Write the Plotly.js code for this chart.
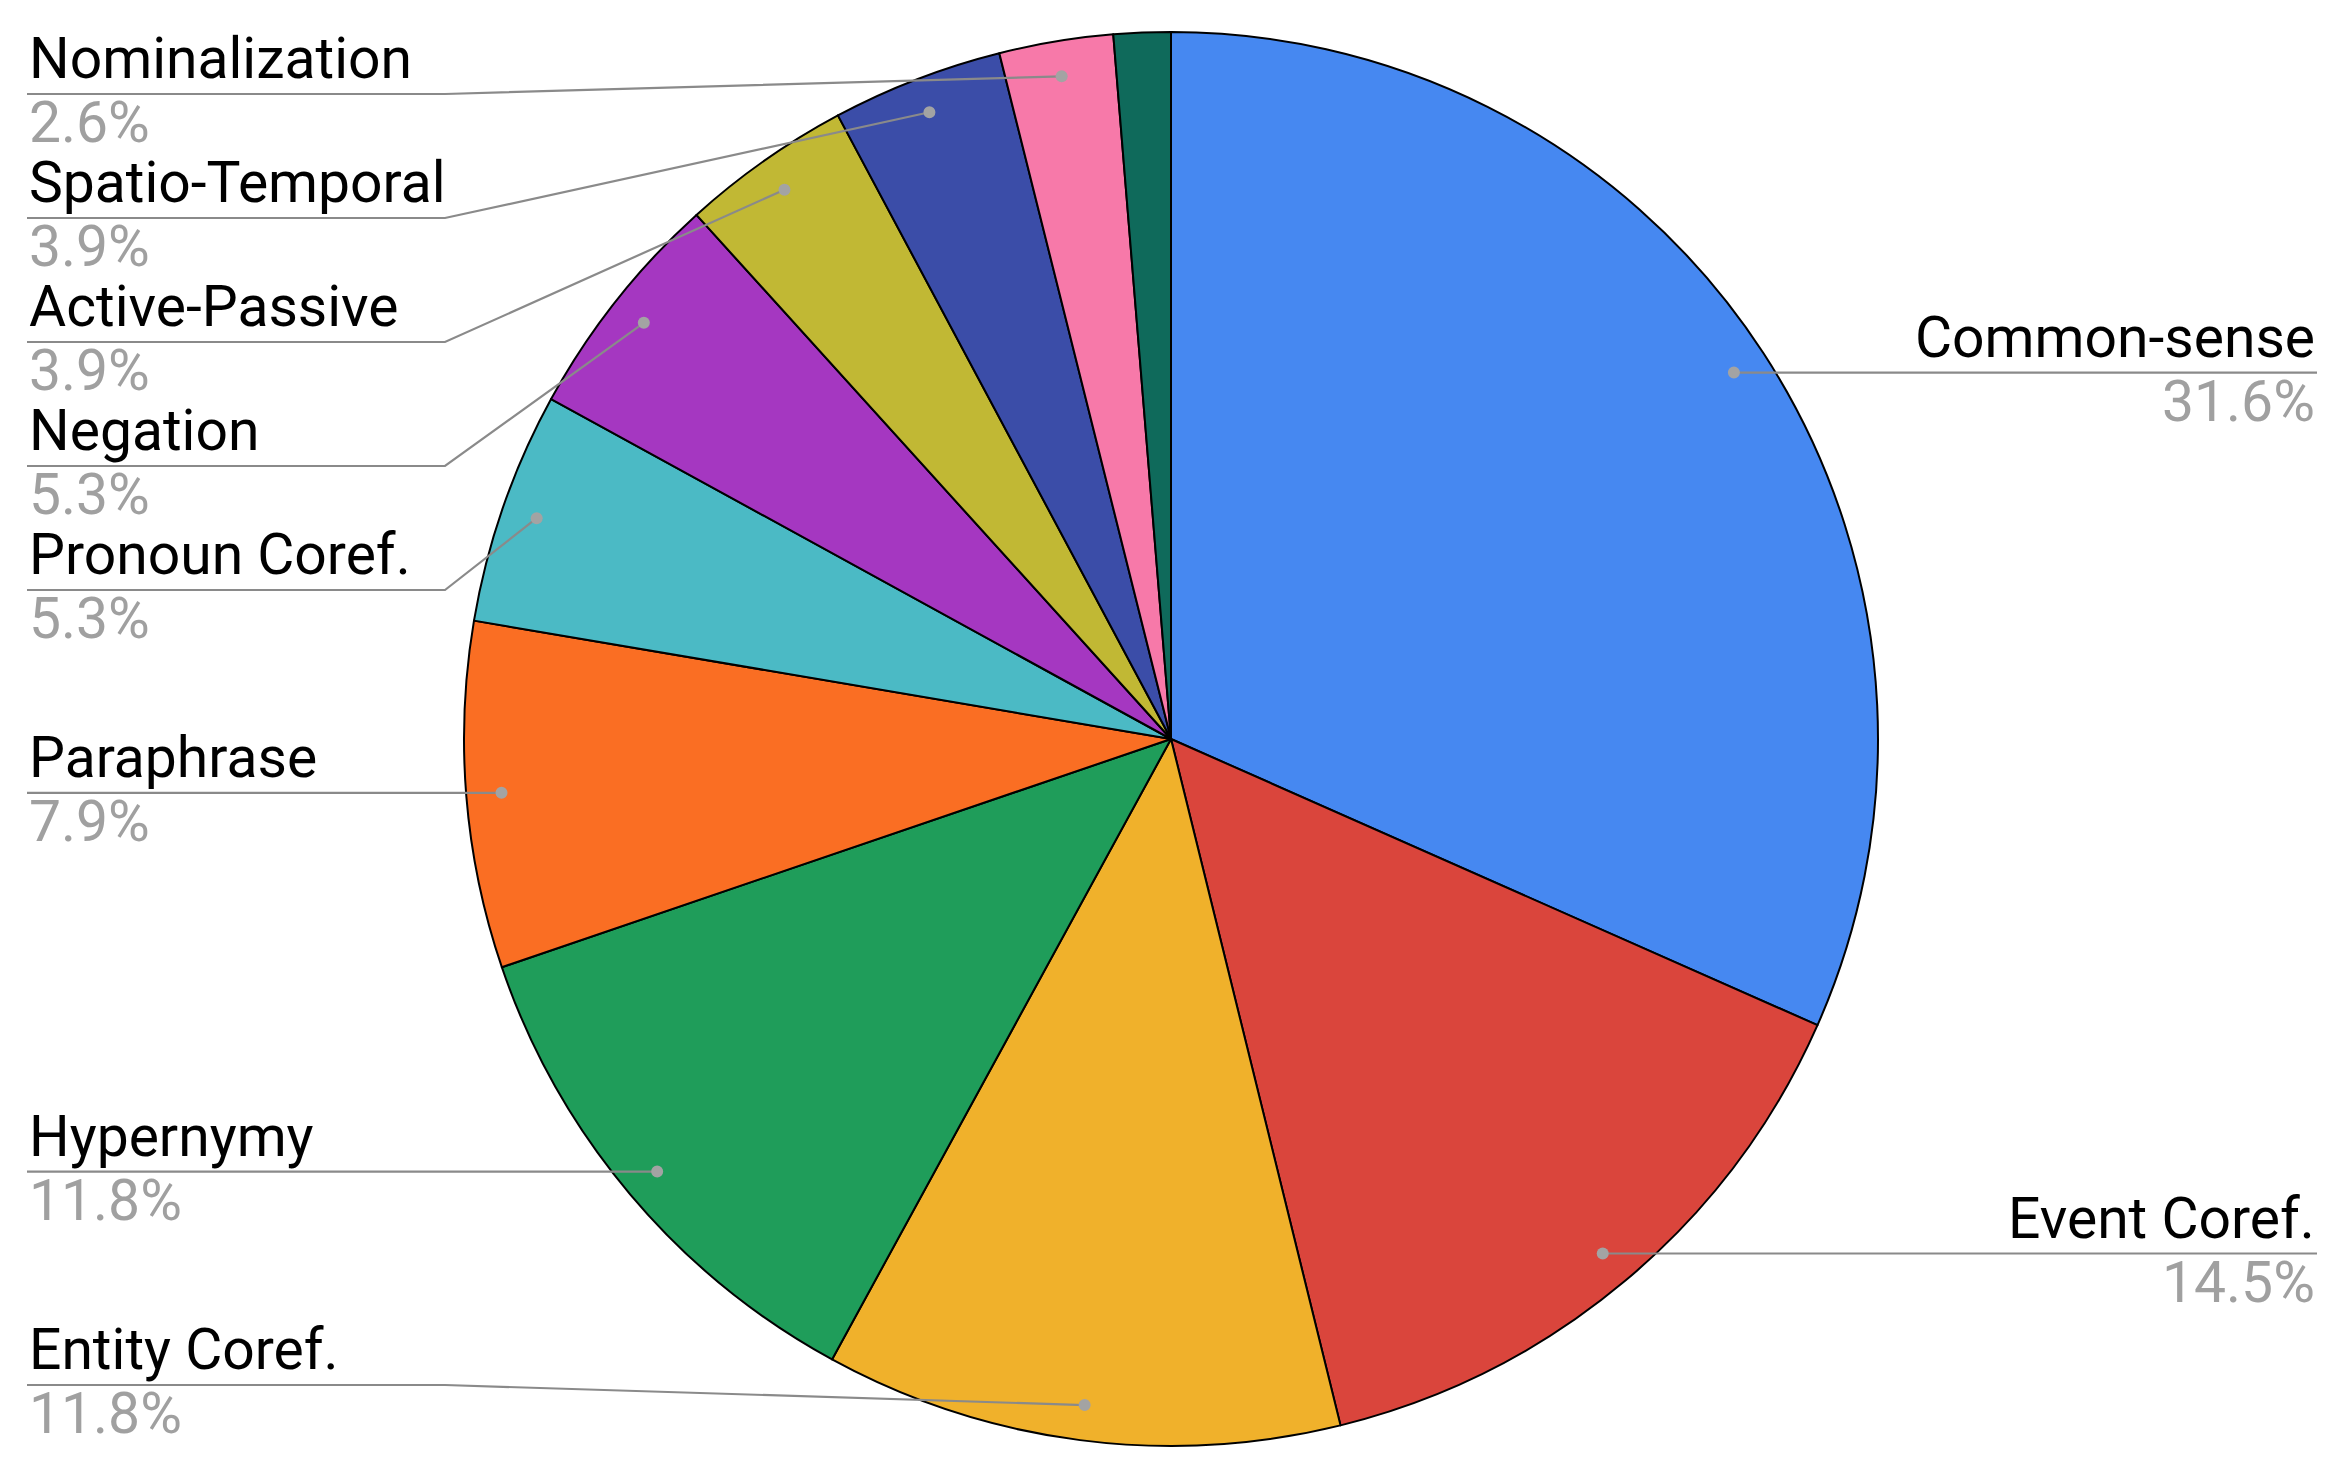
<!DOCTYPE html>
<html>
<head>
<meta charset="utf-8">
<script src="https://cdn.plot.ly/plotly-3.0.1.min.js"></script>
<style>html,body{margin:0;padding:0;background:#fff;}#chart{width:2342px;height:1476px;}</style>
</head>
<body>
<div id="chart"></div>
<script>
// ---- data ----
const categories = ["Common-sense", "Event Coref.", "Entity Coref.", "Hypernymy", "Paraphrase",
  "Pronoun Coref.", "Negation", "Active-Passive", "Spatio-Temporal", "Nominalization", "Other"];
const percents = [31.6, 14.5, 11.8, 11.8, 7.9, 5.3, 5.3, 3.9, 3.9, 2.6, 1.3];
const showLabel = [true, true, true, true, true, true, true, true, true, true, false];
const sliceColors = ["#4688F1", "#DA453C", "#F0B12B", "#1F9D5A", "#FA6E23", "#4BBAC5",
  "#A537C1", "#C1B834", "#3B4DA8", "#F779A9", "#0F6A5B"];

// ---- layout geometry ----
const W = 2342, H = 1476;
const cx = 1171, cy = 739, R = 707;
const dotR = 0.95 * R;
const leftX = 27, rightX = 2317, leftBend = 445, rightBend = 1897;
const minGap = 124, topBound = 94, bottomBound = 1385;
const fontFam = "Roboto, 'Noto Sans', Arial, sans-serif";
const fs = 57;

const total = percents.reduce((a, b) => a + b, 0);
let cum = 0;
const items = [];
percents.forEach((v, i) => {
  const mid = (cum + v / 2) / total * 2 * Math.PI;
  cum += v;
  if (!showLabel[i]) return;
  const dx = cx + dotR * Math.sin(mid);
  const dy = cy - dotR * Math.cos(mid);
  items.push({i, dx, dy, side: Math.sin(mid) < 0 ? 'left' : 'right'});
});

function placeSide(side) {
  const arr = items.filter(d => d.side === side).sort((a, b) => a.dy - b.dy);
  let prev = -Infinity;
  arr.forEach(d => { d.ly = Math.max(d.dy, prev + minGap, topBound); prev = d.ly; });
  let next = Infinity;
  for (let k = arr.length - 1; k >= 0; k--) {
    arr[k].ly = Math.min(arr[k].ly, next - minGap, bottomBound);
    next = arr[k].ly;
  }
}
placeSide('left'); placeSide('right');

const traces = [{
  type: 'pie',
  labels: categories,
  values: percents,
  sort: false,
  direction: 'clockwise',
  rotation: 0,
  textinfo: 'none',
  hoverinfo: 'label+percent',
  marker: {colors: sliceColors, line: {color: '#000000', width: 2}},
  domain: {x: [(cx - R) / W, (cx + R) / W], y: [(H - cy - R) / H, (H - cy + R) / H]},
  showlegend: false
}, {
  // invisible anchor trace so the pixel-space cartesian axes exist
  type: 'scatter', mode: 'markers', xaxis: 'x', yaxis: 'y',
  x: items.map(d => d.dx), y: items.map(d => d.dy),
  marker: {opacity: 0, size: 1}, hoverinfo: 'skip', showlegend: false
}];

const annotations = [];
const shapes = [];
items.forEach(d => {
  const left = d.side === 'left';
  const x0 = left ? leftX : rightX;
  const bend = left ? leftBend : rightBend;
  shapes.push({
    type: 'path', xref: 'x', yref: 'y', layer: 'above',
    path: `M${x0},${d.ly} L${bend},${d.ly} L${d.dx},${d.dy}`,
    line: {color: '#8a8a8a', width: 2.2}
  });
  const r = 6;
  shapes.push({
    type: 'circle', xref: 'x', yref: 'y', layer: 'above',
    x0: d.dx - r, x1: d.dx + r, y0: d.dy - r, y1: d.dy + r,
    fillcolor: '#a3a3a3', line: {width: 0}
  });
  annotations.push({
    xref: 'x', yref: 'y', x: x0, y: d.ly, xanchor: left ? 'left' : 'right', yanchor: 'bottom',
    text: categories[d.i], showarrow: false, font: {family: fontFam, size: fs, color: '#000000'}
  });
  annotations.push({
    xref: 'x', yref: 'y', x: x0, y: d.ly, xanchor: left ? 'left' : 'right', yanchor: 'top', yshift: 7,
    text: percents[d.i].toFixed(1) + '%', showarrow: false, font: {family: fontFam, size: fs, color: '#a0a0a0'}
  });
});

const layout = {
  width: W, height: H,
  margin: {l: 0, r: 0, t: 0, b: 0},
  paper_bgcolor: '#ffffff', plot_bgcolor: 'rgba(0,0,0,0)',
  xaxis: {range: [0, W], visible: false, fixedrange: true, domain: [0, 1]},
  yaxis: {range: [H, 0], visible: false, fixedrange: true, domain: [0, 1]},
  annotations: annotations,
  shapes: shapes,
  showlegend: false
};

Plotly.newPlot('chart', traces, layout, {displayModeBar: false, staticPlot: true});
</script>
</body>
</html>
